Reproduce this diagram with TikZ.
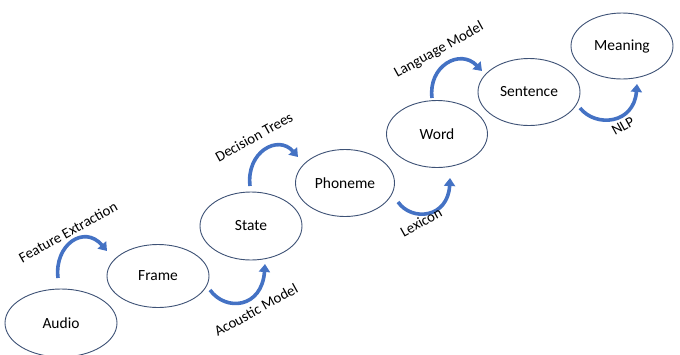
\documentclass[tikz,border=0pt]{standalone}
\usepackage{fontspec}
\setmainfont{Carlito}
\usetikzlibrary{shapes.geometric,arrows.meta}
\definecolor{arrowblue}{RGB}{68,114,196}
\definecolor{ringcol}{RGB}{62,82,118}
\tikzset{
  stage/.style={ellipse, draw=ringcol, line width=0.9pt, fill=white, font=\fontsize{15.5}{17}\selectfont, inner sep=0pt},
  flow/.style={draw=arrowblue, line width=3.6pt, -{Triangle[length=8pt,width=11pt]}},
  lab/.style={font=\fontsize{14.8}{16}\selectfont, rotate=29, inner sep=0pt}
}
\begin{document}
\begin{tikzpicture}[x=1pt,y=-1pt]
\useasboundingbox (0,0) rectangle (680,354);
\node[stage, minimum width=112pt, minimum height=68pt] (audio) at (61,323) {Audio};
\node[stage, minimum width=102pt, minimum height=63pt] (frame) at (158,276) {Frame};
\node[stage, minimum width=102pt, minimum height=68pt] (state) at (251,226) {State};
\node[stage, minimum width=99pt, minimum height=67pt] (phoneme) at (345,183) {Phoneme};
\node[stage, minimum width=101pt, minimum height=67pt] (word) at (437,134) {Word};
\node[stage, minimum width=102pt, minimum height=67pt] (sentence) at (529,92) {Sentence};
\node[stage, minimum width=102pt, minimum height=66pt] (meaning) at (622,46) {Meaning};

\coordinate (fe1) at (58,278);   \coordinate (fe2) at (107,251);
\coordinate (am1) at (210,290);  \coordinate (am2) at (265,264);
\coordinate (dt1) at (250,186);  \coordinate (dt2) at (298,157);
\coordinate (lx1) at (398,202);  \coordinate (lx2) at (450,178);
\coordinate (lm1) at (432,98);   \coordinate (lm2) at (482,71);
\coordinate (nl1) at (580,108);  \coordinate (nl2) at (637,84);

\draw[flow] (fe1) .. controls (54,245) and (84,224) .. (fe2);
\draw[flow] (am1) .. controls (226,312) and (262,308) .. (am2);
\draw[flow] (dt1) .. controls (246,152) and (278,134) .. (dt2);
\draw[flow] (lx1) .. controls (412,222) and (448,218) .. (lx2);
\draw[flow] (lm1) .. controls (428,66) and (460,48) .. (lm2);
\draw[flow] (nl1) .. controls (596,128) and (634,124) .. (nl2);

\node[lab] (lfe) at (68,232) {Feature Extraction};
\node[lab] (lam) at (256,310) {Acoustic Model};
\node[lab] (ldt) at (254,137) {Decision Trees};
\node[lab] (llx) at (421,222) {Lexicon};
\node[lab] (llm) at (439,50) {Language Model};
\node[lab] (lnl) at (623,126) {NLP};
\end{tikzpicture}
\end{document}
